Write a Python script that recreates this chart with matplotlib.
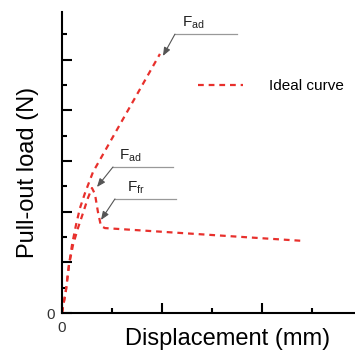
import numpy as np
import matplotlib
matplotlib.use("Agg")
import matplotlib.pyplot as plt

plt.rcParams['font.family'] = ['Liberation Sans', 'DejaVu Sans']
plt.rcParams['mathtext.fontset'] = 'custom'
plt.rcParams['mathtext.rm'] = 'Liberation Sans'
plt.rcParams['mathtext.it'] = 'Liberation Sans'

# ideal curve (linear up to the adhesion failure)
ideal_x = [0, 0.08, 0.14, 0.20, 0.28, 0.36, 0.46, 0.62, 1.96]
ideal_y = [0, 0.91, 1.89, 2.68, 3.47, 4.14, 4.73, 5.56, 10.22]

# measured curve: adhesion peak then friction plateau
meas_x = [0, 0.08, 0.14, 0.22, 0.32, 0.42, 0.52, 0.60, 0.66, 0.72, 0.78, 0.86, 4.86]
meas_y = [0, 0.91, 1.89, 2.68, 3.35, 3.94, 4.54, 4.93, 4.69, 3.98, 3.43, 3.35, 2.84]

# annotations: label, arrow tip, elbow, end of leader, text position
notes = [
    ("F$_{ad}$", (2.02, 10.14), (2.26, 11.0), 3.50, (2.40, 11.12)),
    ("F$_{ad}$", (0.70, 4.97), (1.02, 5.76), 2.22, (1.14, 5.88)),
    ("F$_{fr}$", (0.78, 3.67), (1.06, 4.50), 2.28, (1.30, 4.60)),
]

red = '#e8302c'
dash = (2.6, 2.2)

fig = plt.figure(figsize=(3.55, 3.54), dpi=100)
ax = fig.add_axes([0.1746, 0.1158, 0.825, 0.850])

ax.plot(ideal_x, ideal_y, color=red, lw=1.6, dashes=dash, label='Ideal curve')
ax.plot(meas_x, meas_y, color=red, lw=1.6, dashes=dash)

for label, tip, elbow, xend, tpos in notes:
    ax.plot([elbow[0], xend], [elbow[1], elbow[1]], color='#999999', lw=0.9)
    ax.annotate('', xy=tip, xytext=elbow,
                arrowprops=dict(arrowstyle='-|>,head_length=0.5,head_width=0.2',
                                color='#555555', lw=0.8, shrinkA=0, shrinkB=0))
    ax.text(tpos[0], tpos[1], label, fontsize=11, color='#222222', va='bottom', ha='left')

ax.set_xlim(0, 5.86)
ax.set_ylim(0, 11.87)

ax.set_xticks([0, 2, 4])
ax.set_xticklabels(['0', '', ''])
ax.set_xticks([1, 3, 5], minor=True)
ax.set_yticks([0, 2, 4, 6, 8, 10])
ax.set_yticklabels(['0', '', '', '', '', ''])
ax.set_yticks([1, 3, 5, 7, 9, 11], minor=True)

ax.tick_params(which='major', direction='in', length=7, width=1.5, labelsize=11,
               labelcolor='#333333')
ax.tick_params(which='minor', direction='in', length=3.6, width=1.5)
ax.tick_params(axis='x', pad=6)
ax.tick_params(axis='y', pad=5)

for s in ['top', 'right']:
    ax.spines[s].set_visible(False)
for s in ['left', 'bottom']:
    ax.spines[s].set_linewidth(1.5)

ax.set_xlabel('Displacement (mm)', fontsize=17)
ax.set_ylabel('Pull-out load (N)', fontsize=17)
ax.xaxis.set_label_coords(0.567, -0.05)
ax.yaxis.set_label_coords(-0.078, 0.468)

ax.legend(loc='center left', bbox_to_anchor=(0.464, 0.754), frameon=False,
          fontsize=11, handlelength=2.95, handletextpad=1.7, borderpad=0,
          borderaxespad=0)

fig.savefig('out.png', dpi=100)
